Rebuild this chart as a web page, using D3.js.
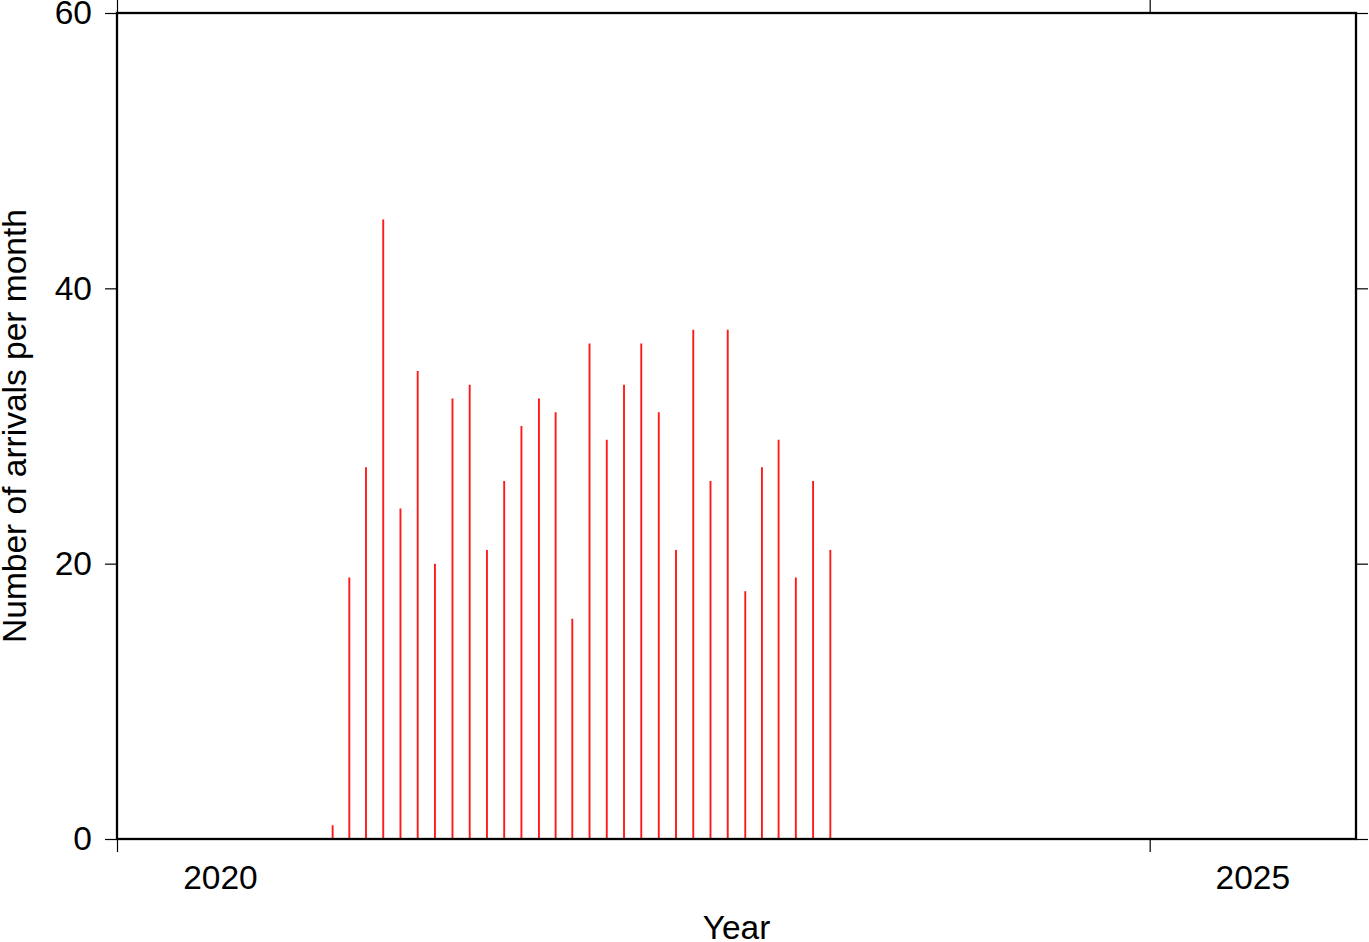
<!DOCTYPE html>
<html><head><meta charset="utf-8">
<script src="https://cdn.jsdelivr.net/npm/d3@7"></script>
<style>html,body{margin:0;padding:0;background:#fff;}svg{display:block;font-family:"Liberation Sans",Arial,Helvetica,sans-serif;}</style>
</head><body>
<svg id="c" width="1369" height="942"></svg>
<script>
const months = ["2021-01","2021-02","2021-03","2021-04","2021-05","2021-06","2021-07","2021-08","2021-09","2021-10","2021-11","2021-12",
"2022-01","2022-02","2022-03","2022-04","2022-05","2022-06","2022-07","2022-08","2022-09","2022-10","2022-11","2022-12",
"2023-01","2023-02","2023-03","2023-04","2023-05","2023-06"];
const arrivals = [1,19,27,45,24,34,20,32,33,21,26,30,32,31,16,36,29,33,36,31,21,37,26,37,18,27,29,19,26,21];
const yTicks = [0,20,40,60];
const xTickYears = [2020,2025];
const xLabel = "Year";
const yLabel = "Number of arrivals per month";

const FS = 33.5;
const svg = d3.select("#c");
const L=117, R=1356, T=13, B=839;
const x = d3.scaleTime().domain([new Date(2020,0,1), new Date(2026,0,1)]).range([L,R]);
const y = d3.scaleLinear().domain([0,60]).range([B,T]);
const pm = d3.timeParse("%Y-%m");
const mid = s => { const a = pm(s); const b = d3.timeMonth.offset(a,1); return (x(a)+x(b))/2; };

// bars
svg.append("g").selectAll("line").data(months).join("line")
  .attr("x1",(d)=>mid(d)).attr("x2",(d)=>mid(d))
  .attr("y1",y(0)).attr("y2",(d,i)=>y(arrivals[i]))
  .attr("stroke","#ff1a1a").attr("stroke-width",1.9);

// axes
const tickLen = 12;
const axL = d3.axisLeft(y).tickValues(yTicks).tickSize(tickLen).tickPadding(13).tickFormat(d3.format("d"));
const axR = d3.axisRight(y).tickValues(yTicks).tickSize(tickLen).tickFormat("");
const yearDates = xTickYears.map(v=>new Date(v,0,1));
const axB = d3.axisBottom(x).tickValues(yearDates).tickSize(13).tickFormat("");
const axT = d3.axisTop(x).tickValues(yearDates).tickSize(13).tickFormat("");
function style(g){ g.select(".domain").remove(); g.selectAll(".tick line").attr("stroke","#000").attr("stroke-width",1.2); g.selectAll("text").attr("font-size",FS).attr("fill","#000").attr("font-family","Liberation Sans, Arial, sans-serif"); }
svg.append("g").attr("transform",`translate(${L},0)`).call(axL).call(style);
svg.append("g").attr("transform",`translate(${R},0)`).call(axR).call(style);
svg.append("g").attr("transform",`translate(0,${B})`).call(axB).call(style);
svg.append("g").attr("transform",`translate(0,${T})`).call(axT).call(style);

// year labels centered in year interval
svg.append("g").selectAll("text").data(xTickYears).join("text")
  .attr("x",d=>(x(new Date(d,0,1))+x(new Date(d+1,0,1)))/2)
  .attr("y",889).attr("text-anchor","middle").attr("font-size",FS).text(d=>d);

// frame
svg.append("rect").attr("x",L).attr("y",T).attr("width",R-L).attr("height",B-T)
  .attr("fill","none").attr("stroke","#000").attr("stroke-width",2.3);

svg.append("text").attr("x",(L+R)/2).attr("y",939).attr("text-anchor","middle").attr("font-size",FS).text(xLabel);
svg.append("text").attr("transform",`translate(26,${(T+B)/2}) rotate(-90)`).attr("text-anchor","middle").attr("font-size",FS).text(yLabel);
</script>
</body></html>
